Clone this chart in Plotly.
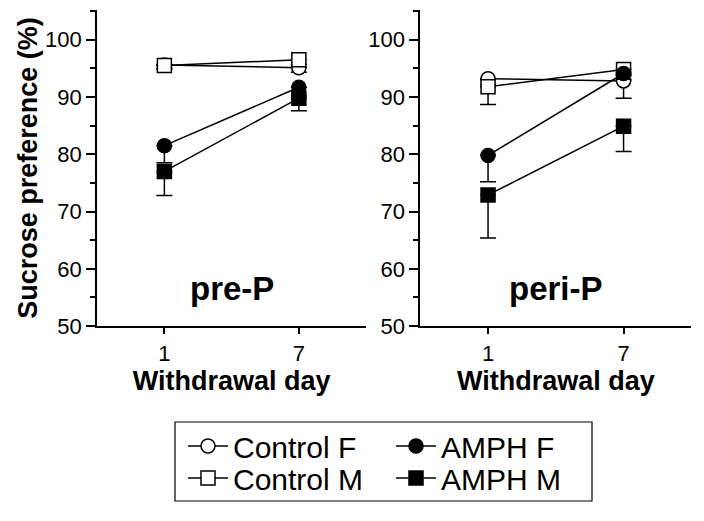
import plotly.graph_objects as go
from plotly.subplots import make_subplots

days = ["1", "7"]
groups = ["Control F", "Control M", "AMPH F", "AMPH M"]

# mean sucrose preference (%) per group, pre-P panel
pre_mean = {
    "Control F": [95.6, 95.1],
    "Control M": [95.5, 96.5],
    "AMPH F": [81.5, 91.7],
    "AMPH M": [77.0, 89.8],
}
pre_err = {
    "Control F": [0.6, 0.8],
    "Control M": [0.6, 0.8],
    "AMPH F": [3.0, 1.5],
    "AMPH M": [4.2, 2.2],
}
# peri-P panel
peri_mean = {
    "Control F": [93.2, 92.8],
    "Control M": [91.8, 94.8],
    "AMPH F": [79.8, 94.1],
    "AMPH M": [72.9, 84.9],
}
peri_err = {
    "Control F": [1.0, 3.0],
    "Control M": [3.1, 1.0],
    "AMPH F": [4.6, 1.0],
    "AMPH M": [7.5, 4.4],
}

# legend row 1 = "legend", row 2 = "legend2"
style = {
    "Control F": dict(symbol="circle", color="white", leg="legend", rank=1),
    "AMPH F": dict(symbol="circle", color="black", leg="legend", rank=2),
    "Control M": dict(symbol="square", color="white", leg="legend2", rank=1),
    "AMPH M": dict(symbol="square", color="black", leg="legend2", rank=2),
}

FONT = "Liberation Sans, Arial, sans-serif"

fig = make_subplots(rows=1, cols=2)

for col, (means, errs) in enumerate([(pre_mean, pre_err), (peri_mean, peri_err)], start=1):
    for g in groups:
        s = style[g]
        fig.add_trace(go.Scatter(
            x=days, y=means[g],
            mode="lines+markers",
            name=g,
            legend=s["leg"],
            legendrank=s["rank"],
            showlegend=(col == 1),
            line=dict(color="black", width=1.5),
            marker=dict(symbol=s["symbol"], size=14, color=s["color"],
                        line=dict(color="black", width=1.5)),
            error_y=dict(type="data", symmetric=False,
                         array=[0, 0], arrayminus=errs[g],
                         color="black", thickness=1.5, width=8),
        ), row=1, col=col)

axis_common = dict(
    showline=True, linecolor="black", linewidth=2,
    ticks="outside", tickwidth=2, tickcolor="black",
    showgrid=False, zeroline=False, automargin=False,
    tickfont=dict(size=22, color="black", family=FONT),
)

fig.update_xaxes(axis_common)
fig.update_xaxes(
    type="category", range=[-0.5, 1.5], ticklen=6,
    title=dict(text="<b>Withdrawal day</b>", font=dict(size=27, color="black", family=FONT), standoff=2),
)
fig.update_xaxes(domain=[0.138, 0.52], row=1, col=1)
fig.update_xaxes(domain=[0.597, 0.982], row=1, col=2)

fig.update_yaxes(axis_common)
fig.update_yaxes(
    range=[50, 105.2], tickvals=[50, 60, 70, 80, 90, 100], ticklen=9,
    domain=[0.374, 0.981],
    minor=dict(ticks="outside", dtick=5, tick0=50, ticklen=5, tickwidth=2, tickcolor="black"),
)
fig.update_yaxes(
    title=dict(text="<b>Sucrose preference (%)</b>", font=dict(size=27, color="black", family=FONT), standoff=0),
    row=1, col=1,
)

fig.add_annotation(x=0.5, y=56.6, xref="x", yref="y", text="<b>pre-P</b>",
                   showarrow=False, font=dict(size=33, color="black", family=FONT))
fig.add_annotation(x=0.5, y=56.6, xref="x2", yref="y2", text="<b>peri-P</b>",
                   showarrow=False, font=dict(size=33, color="black", family=FONT))

# legend frame
fig.add_shape(type="rect", xref="paper", yref="paper",
              x0=175 / 704, x1=592 / 704, y0=1 - 501 / 521, y1=1 - 422 / 521,
              line=dict(color="black", width=1.2), fillcolor="rgba(0,0,0,0)")

legend_common = dict(
    orientation="h", xanchor="left", yanchor="middle",
    bgcolor="rgba(0,0,0,0)", borderwidth=0,
    font=dict(size=30, color="black", family=FONT),
    entrywidth=153, entrywidthmode="pixels",
    itemwidth=40,
)

fig.update_layout(
    width=704, height=521,
    margin=dict(l=0, r=0, t=0, b=0),
    plot_bgcolor="white", paper_bgcolor="white",
    font=dict(family=FONT, color="black"),
    legend=dict(legend_common, x=183 / 704, y=1 - 446 / 521),
    legend2=dict(legend_common, x=183 / 704, y=1 - 478 / 521),
)

# drop the browser's default 8px body margin so the figure sits at the window origin
fig.write_html("out.html", config={"displayModeBar": False},
               post_script="document.body.style.margin='0';")
